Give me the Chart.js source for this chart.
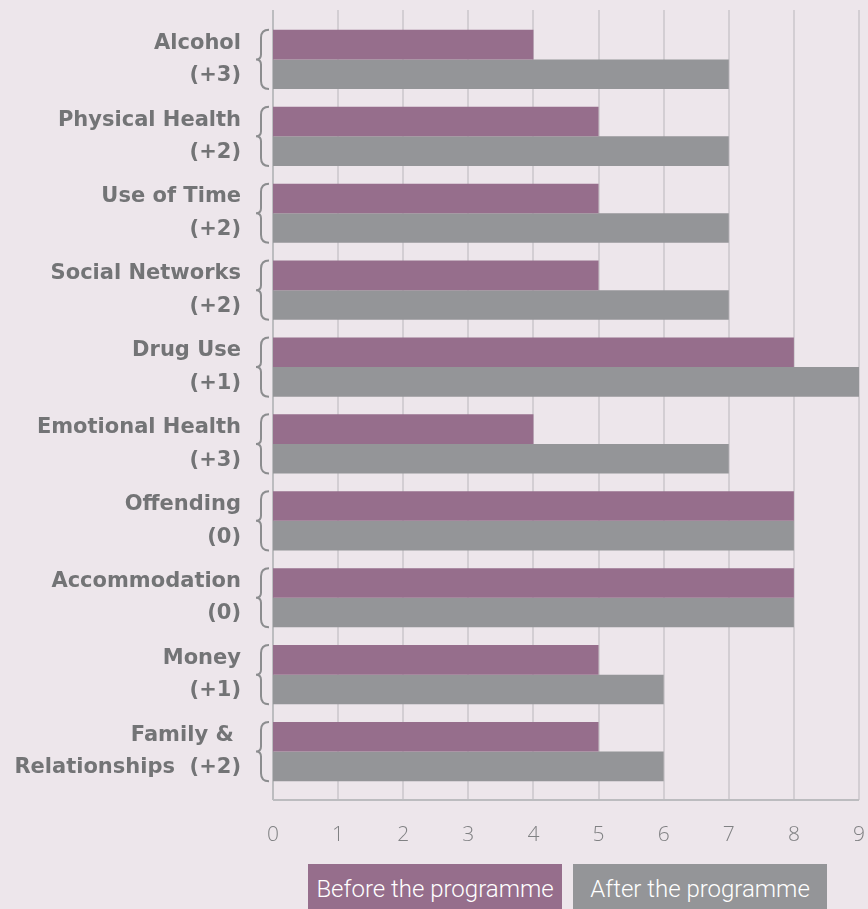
<!DOCTYPE html>
<html><head><meta charset="utf-8">
<script src="https://cdn.jsdelivr.net/npm/chart.js@4"></script>
<style>
html,body{margin:0;padding:0;background:#ede6eb;width:868px;height:909px;overflow:hidden;}
#wrap{position:relative;width:868px;height:909px;}
canvas{position:absolute;left:0;top:0;}
.lg{position:absolute;top:864px;height:46px;width:254px;color:#fff;font-family:Roboto,sans-serif;font-weight:300;font-size:24px;line-height:50px;text-align:center;white-space:nowrap;}
</style></head>
<body><div id="wrap"><canvas id="c" width="868" height="860"></canvas>
<div id="legend"></div></div>
<script>
const categories = [
  ["Alcohol","(+3)"],
  ["Physical Health","(+2)"],
  ["Use of Time","(+2)"],
  ["Social Networks","(+2)"],
  ["Drug Use","(+1)"],
  ["Emotional Health","(+3)"],
  ["Offending","(0)"],
  ["Accommodation","(0)"],
  ["Money","(+1)"],
  ["Family & ","Relationships  (+2)"]
];
const seriesNames = ["Before the programme","After the programme"];
const beforeValues = [4,5,5,5,8,4,8,8,5,5];
const afterValues  = [7,7,7,7,9,7,8,8,6,6];
const xTicks = [0,1,2,3,4,5,6,7,8,9];
const colors = ["#966e8c","#949598"];

const decor = {
  id:'decor',
  beforeDatasetsDraw(chart){
    const ctx = chart.ctx, xs = chart.scales.x, a = chart.chartArea;
    const top = a.top - 11, bottom = a.bottom + 10;
    ctx.save();
    ctx.lineWidth = 2;
    ctx.strokeStyle = '#d3ced3';
    xTicks.forEach(v=>{
      if(v===0) return;
      const x = Math.round(xs.getPixelForValue(v));
      ctx.beginPath(); ctx.moveTo(x,top); ctx.lineTo(x,bottom); ctx.stroke();
    });
    ctx.strokeStyle = '#bcbcbf';
    const x0 = xs.getPixelForValue(0);
    ctx.beginPath(); ctx.moveTo(x0,top); ctx.lineTo(x0,bottom); ctx.stroke();
    ctx.beginPath(); ctx.moveTo(x0,bottom); ctx.lineTo(xs.getPixelForValue(9),bottom); ctx.stroke();
    ctx.restore();
  },
  afterDatasetsDraw(chart){
    const ctx = chart.ctx, ys = chart.scales.y;
    const band = (ys.getPixelForValue(1) - ys.getPixelForValue(0));
    ctx.save();
    ctx.strokeStyle = '#8c8d8f';
    ctx.lineWidth = 2;
    categories.forEach((c,i)=>{
      const cy = ys.getPixelForValue(i);
      const h = band*0.385;
      const t = cy - h, b = cy + h;
      const xr = 268, xm = 261, xl = 256;
      ctx.beginPath();
      ctx.moveTo(xr+1, t);
      ctx.quadraticCurveTo(xm, t, xm, t+8);
      ctx.lineTo(xm, cy-5);
      ctx.quadraticCurveTo(xm, cy, xl, cy);
      ctx.quadraticCurveTo(xm, cy, xm, cy+5);
      ctx.lineTo(xm, b-8);
      ctx.quadraticCurveTo(xm, b, xr+1, b);
      ctx.stroke();
    });
    ctx.restore();
  }
};

function noPad(s){ s.paddingTop=0; s.paddingBottom=0; s.paddingLeft=0; s.paddingRight=0; }

new Chart(document.getElementById('c'), {
  type:'bar',
  data:{
    labels: categories,
    datasets:[
      {label:seriesNames[0], data:beforeValues, backgroundColor:colors[0]},
      {label:seriesNames[1], data:afterValues, backgroundColor:colors[1]}
    ]
  },
  options:{
    indexAxis:'y',
    responsive:false,
    animation:false,
    events:[],
    layout:{padding:{top:21,right:9,left:0,bottom:0}},
    datasets:{bar:{categoryPercentage:0.77,barPercentage:1.0,borderWidth:0}},
    plugins:{legend:{display:false},tooltip:{enabled:false}},
    scales:{
      x:{
        min:0,max:9,
        afterBuildTicks(s){ s.ticks = xTicks.map(v=>({value:v})); },
        afterFit(s){ s.height = 70; noPad(s); },
        grid:{display:false},
        border:{display:false},
        ticks:{padding:24,color:'#808183',font:{family:'"Open Sans", sans-serif',size:21,weight:'300'},maxRotation:0}
      },
      y:{
        afterFit(s){ s.width = 273; noPad(s); },
        grid:{display:false,drawTicks:false},
        border:{display:false},
        ticks:{padding:32,color:'#737476',font:{family:'"DejaVu Sans", sans-serif',size:21,weight:'bold',lineHeight:1.55}}
      }
    }
  },
  plugins:[decor]
});

const lg = document.getElementById('legend');
const lefts = [308,573];
seriesNames.forEach((n,i)=>{
  const d = document.createElement('div');
  d.className='lg'; d.style.left=lefts[i]+'px'; d.style.background=colors[i];
  d.textContent=n; lg.appendChild(d);
});
</script></body></html>
